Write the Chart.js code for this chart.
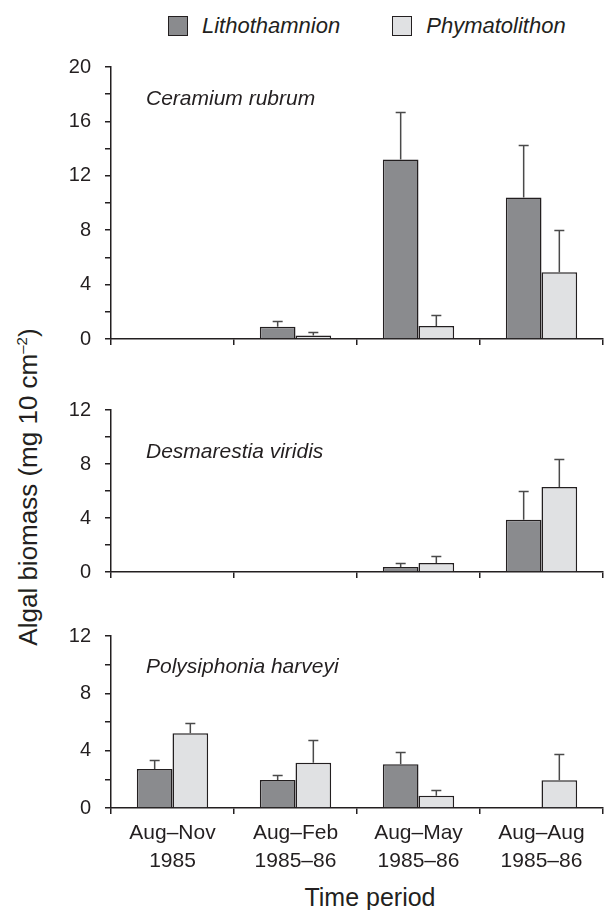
<!DOCTYPE html>
<html>
<head>
<meta charset="utf-8">
<script src="https://cdn.jsdelivr.net/npm/chart.js@4.4.1/dist/chart.umd.min.js"></script>
<style>
body{margin:0;background:#fff;font-family:'Liberation Sans',Arial,sans-serif;color:#231f20;}
#wrap{position:relative;width:605px;height:910px;overflow:hidden;}
canvas{position:absolute;left:0;}
.legend{position:absolute;top:13px;left:168px;display:flex;align-items:center;font-size:22px;font-style:italic;}
.legend .item{display:flex;align-items:center;margin-right:52px;}
.legend .sw{width:18px;height:18px;border:1.5px solid #231f20;margin-right:14px;}
.ytitle{position:absolute;left:28px;top:487px;transform:translate(-50%,-50%) rotate(-90deg);white-space:nowrap;font-size:26px;}
.ytitle sup{font-size:15px;}
.xtitle{position:absolute;left:370px;top:897px;transform:translate(-50%,-50%);white-space:nowrap;font-size:25px;}
</style>
</head>
<body>
<div id="wrap">
  <div class="legend" id="legend"></div>
  <div class="ytitle">Algal biomass (mg 10 cm<sup>–2</sup>)</div>
  <div class="xtitle">Time period</div>
  <canvas id="c0" width="605" height="359" style="top:0"></canvas>
  <canvas id="c1" width="605" height="236" style="top:359px"></canvas>
  <canvas id="c2" width="605" height="315" style="top:595px"></canvas>
</div>
<script>
// data
const periods = [['Aug–Nov','1985'],['Aug–Feb','1985–86'],['Aug–May','1985–86'],['Aug–Aug','1985–86']];
const seriesNames = ['Lithothamnion','Phymatolithon'];
const species = ['Ceramium rubrum','Desmarestia viridis','Polysiphonia harveyi'];
const yMax = [20, 12, 12];

// mean biomass and SE (null = not found)
const ceramiumLitho   = [null, 0.9, 13.2, 10.4];
const ceramiumLithoSE = [null, 0.45, 3.5, 3.9];
const ceramiumPhyma   = [null, 0.25, 0.95, 4.9];
const ceramiumPhymaSE = [null, 0.3, 0.85, 3.1];

const desmaLitho   = [null, null, 0.37, 3.87];
const desmaLithoSE = [null, null, 0.27, 2.1];
const desmaPhyma   = [null, null, 0.66, 6.3];
const desmaPhymaSE = [null, null, 0.52, 2.1];

const polyLitho   = [2.72, 1.96, 3.05, null];
const polyLithoSE = [0.63, 0.36, 0.87, null];
const polyPhyma   = [5.22, 3.15, 0.86, 1.94];
const polyPhymaSE = [0.71, 1.57, 0.37, 1.83];

const colors = ['#8a8b8e','#e0e1e3'];
const ink = '#231f20';

Chart.defaults.font.family = "'Liberation Sans', Arial, sans-serif";
Chart.defaults.color = ink;

// legend
const legendEl = document.getElementById('legend');
seriesNames.forEach((name,i)=>{
  const it = document.createElement('div'); it.className='item';
  it.innerHTML = `<span class="sw" style="background:${colors[i]}"></span><span>${name}</span>`;
  legendEl.appendChild(it);
});

// error bars (upper only)
const errorBars = {
  id:'errorBars',
  afterDatasetsDraw(chart){
    const {ctx, scales:{y}} = chart;
    ctx.save();
    ctx.strokeStyle = '#4a4a4a'; ctx.lineWidth = 1.5;
    chart.data.datasets.forEach((ds,i)=>{
      chart.getDatasetMeta(i).data.forEach((bar,j)=>{
        const v = ds.data[j], e = ds.err[j];
        if(v==null || e==null) return;
        const yTop = Math.round(y.getPixelForValue(v+e)) + 0.5;
        ctx.beginPath();
        ctx.moveTo(bar.x, bar.y); ctx.lineTo(bar.x, yTop);
        ctx.moveTo(bar.x-5, yTop); ctx.lineTo(bar.x+5, yTop);
        ctx.stroke();
      });
    });
    ctx.restore();
  }
};

// species name inside each panel
const speciesLabel = {
  id:'speciesLabel',
  afterDraw(chart, args, opts){
    const {ctx, chartArea} = chart;
    ctx.save();
    ctx.font = "italic 21px 'Liberation Sans', Arial, sans-serif";
    ctx.fillStyle = ink;
    ctx.fillText(opts.text, chartArea.left + 35, chartArea.top + opts.dy);
    ctx.restore();
  }
};

const panels = [
  {lit:ceramiumLitho, litSE:ceramiumLithoSE, phy:ceramiumPhyma, phySE:ceramiumPhymaSE, padTop:67, xh:20, dy:38},
  {lit:desmaLitho, litSE:desmaLithoSE, phy:desmaPhyma, phySE:desmaPhymaSE, padTop:51, xh:23, dy:48},
  {lit:polyLitho, litSE:polyLithoSE, phy:polyPhyma, phySE:polyPhymaSE, padTop:41, xh:102, dy:37}
];

panels.forEach((p,k)=>{
  const isLast = k === panels.length-1;
  new Chart(document.getElementById('c'+k),{
    type:'bar',
    data:{
      labels: periods,
      datasets:[
        {label:seriesNames[0], data:p.lit, err:p.litSE, backgroundColor:colors[0]},
        {label:seriesNames[1], data:p.phy, err:p.phySE, backgroundColor:colors[1]}
      ].map(d=>Object.assign(d,{borderColor:ink, borderWidth:1.5, barPercentage:1, categoryPercentage:0.58}))
    },
    options:{
      responsive:false, animation:false, devicePixelRatio:1,
      layout:{padding:{top:p.padTop, left:0, right:2, bottom:0}},
      plugins:{legend:{display:false}, tooltip:{enabled:false}, speciesLabel:{text:species[k], dy:p.dy}},
      scales:{
        x:{
          grid:{drawOnChartArea:false, tickLength:6, color:ink, lineWidth:1.5, offset:true},
          border:{color:ink, width:1.5},
          ticks:{display:isLast, font:{size:21, lineHeight:1.3}, padding:6, maxRotation:0, autoSkip:false},
          afterFit:s=>{ s.height = p.xh; }
        },
        y:{
          min:0, max:yMax[k],
          grid:{drawOnChartArea:false, tickLength:6, color:ink, lineWidth:1.5},
          border:{color:ink, width:1.5},
          ticks:{stepSize:2, autoSkip:false, font:{size:20}, padding:14, callback:v=> v%4===0 ? v : ''},
          afterFit:s=>{ s.width = 111; s.paddingTop = 12; s.paddingBottom = 12; }
        }
      }
    },
    plugins:[errorBars, speciesLabel]
  });
});
</script>
</body>
</html>
